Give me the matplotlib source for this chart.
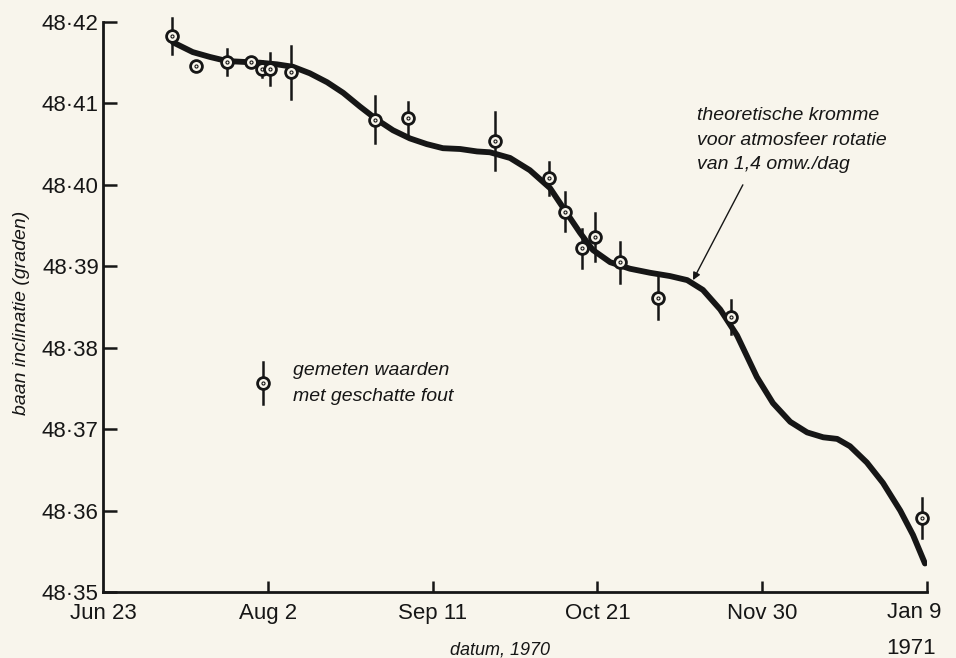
import matplotlib.pyplot as plt

plt.rcParams['font.family'] = ['Liberation Sans', 'DejaVu Sans']

paper = '#f8f5ec'
ink = '#161616'

# measured orbital inclination, days after Jun 23 1970
days = [16.7, 22.6, 30.1, 35.9, 38.6, 40.5, 45.6, 66.0, 74.0, 95.1,
        108.3, 112.1, 116.3, 119.4, 125.5, 134.7, 152.4, 198.8]
incl = [48.4183, 48.4146, 48.4151, 48.4151, 48.4142, 48.4142, 48.4138, 48.4080, 48.4082, 48.4054,
        48.4008, 48.3967, 48.3922, 48.3936, 48.3905, 48.3861, 48.3838, 48.3591]
err = [0.0022, 0.0, 0.0016, 0.0, 0.0010, 0.0020, 0.0032, 0.0029, 0.0020, 0.0036,
       0.0020, 0.0024, 0.0024, 0.0030, 0.0025, 0.0026, 0.0021, 0.0025]

# theoretical curve for atmosphere rotation of 1.4 rev/day
curve_days = [17.0, 21.8, 26.0, 30.1, 34.0, 38.1, 42.2, 46.1, 50.2, 54.4,
              58.3, 62.4, 66.5, 70.4, 74.5, 78.6, 82.5, 86.7, 90.8, 93.9,
              98.8, 103.6, 108.5, 112.6, 115.8, 118.9, 123.1, 127.9, 132.8, 137.6,
              141.8, 145.6, 149.8, 153.9, 158.7, 162.6, 166.8, 170.9, 174.8, 178.2,
              181.3, 185.4, 189.3, 193.5, 196.6, 199.5]
curve_incl = [48.4175, 48.4163, 48.4157, 48.4152, 48.4151, 48.4150, 48.4148, 48.4145, 48.4137, 48.4126,
              48.4113, 48.4096, 48.4080, 48.4067, 48.4057, 48.4050, 48.4045, 48.4044, 48.4041, 48.4040,
              48.4033, 48.4018, 48.3996, 48.3965, 48.3941, 48.3920, 48.3905, 48.3897, 48.3892, 48.3888,
              48.3883, 48.3871, 48.3847, 48.3815, 48.3764, 48.3732, 48.3709, 48.3696, 48.3690, 48.3688,
              48.3679, 48.3659, 48.3634, 48.3600, 48.3570, 48.3535]

x_ticks = [0, 40, 80, 120, 160, 200]
x_labels = ['Jun 23', 'Aug 2', 'Sep 11', 'Oct 21', 'Nov 30', '']
y_ticks = [48.35, 48.36, 48.37, 48.38, 48.39, 48.40, 48.41, 48.42]
y_labels = ['48·35', '48·36', '48·37', '48·38', '48·39', '48·40', '48·41', '48·42']

fig = plt.figure(figsize=(9.56, 6.58), dpi=100, facecolor=paper)
ax = fig.add_axes([0.1077, 0.1003, 0.862, 0.8663], facecolor=paper)

ax.plot(curve_days, curve_incl, color=ink, lw=4.2, solid_capstyle='round',
        solid_joinstyle='round', zorder=2)


def draw_point(x, y, e):
    if e > 0:
        ax.plot([x, x], [y - e, y + e], color=ink, lw=1.8, zorder=3, clip_on=False)
    ax.plot(x, y, 'o', ms=8.5, mfc=paper, mec=ink, mew=2.0, zorder=4, clip_on=False)
    ax.plot(x, y, 'o', ms=2.2, mfc='none', mec=ink, mew=0.8, zorder=5, clip_on=False)


for x, y, e in zip(days, incl, err):
    draw_point(x, y, e)

# legend sample
draw_point(38.9, 48.3757, 0.0026)
ax.text(46.1, 48.3756, 'gemeten waarden\nmet geschatte fout', style='italic',
        fontsize=14, color=ink, va='center', ha='left', linespacing=1.65)

ax.text(144.2, 48.4055, 'theoretische kromme\nvoor atmosfeer rotatie\nvan 1,4 omw./dag',
        style='italic', fontsize=14, color=ink, ha='left', va='center', linespacing=1.6)
ax.annotate('', xy=(143.2, 48.3883), xytext=(155.3, 48.4000),
            arrowprops=dict(arrowstyle='-|>', color=ink, lw=1.0,
                            mutation_scale=11, shrinkA=0, shrinkB=0))

ax.set_xlim(0, 200)
ax.set_ylim(48.35, 48.42)
ax.set_xticks(x_ticks)
ax.set_xticklabels(x_labels)
ax.set_yticks(y_ticks)
ax.set_yticklabels(y_labels)
ax.tick_params(axis='both', direction='in', colors=ink, labelsize=16, width=1.8)
ax.tick_params(axis='y', length=10, pad=3)
ax.tick_params(axis='x', length=8, pad=8)
ax.get_xticklines()[0].set_visible(False)

for side in ['top', 'right']:
    ax.spines[side].set_visible(False)
for side in ['left', 'bottom']:
    ax.spines[side].set_linewidth(2.0)
    ax.spines[side].set_color(ink)

# last date sits a little left of its tick, with the year below it
ax.text(197.0, 48.3488, 'Jan 9', fontsize=16, color=ink, ha='center', va='top')
fig.text(0.953, 0.006, '1971', fontsize=16, color=ink, ha='center', va='baseline')

ax.set_ylabel('baan inclinatie (graden)', style='italic', fontsize=14, color=ink)
ax.yaxis.set_label_coords(-0.089, 0.489)
fig.text(0.523, 0.006, 'datum, 1970', style='italic', fontsize=13, color=ink,
         ha='center', va='baseline')

fig.savefig('out.png', dpi=100, facecolor=paper)
